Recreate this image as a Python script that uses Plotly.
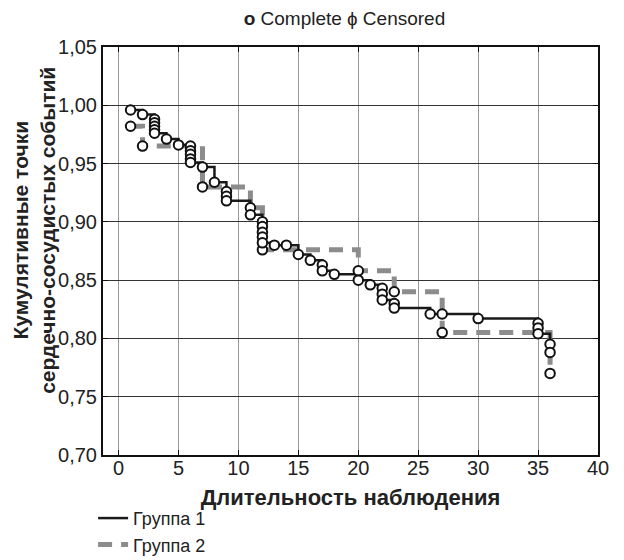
import plotly.graph_objects as go

# Group 1 (solid black) - times and cumulative proportions
g1_t = [1, 2, 3, 3, 3, 3, 3, 4, 5, 6, 6, 6, 6, 6, 7, 8, 9, 9, 9, 11, 11,
        12, 12, 12, 12, 12, 13, 14, 15, 16, 17, 17, 18, 20, 21, 22, 22, 22,
        23, 23, 26, 27, 30, 35, 35, 35, 36, 36]
g1_s = [0.996, 0.992, 0.988, 0.985, 0.982, 0.979, 0.976, 0.971, 0.966,
        0.965, 0.961, 0.958, 0.954, 0.951, 0.947, 0.934, 0.926, 0.922, 0.918,
        0.912, 0.906, 0.900, 0.896, 0.891, 0.887, 0.882, 0.880, 0.880, 0.872,
        0.867, 0.863, 0.858, 0.855, 0.850, 0.846, 0.843, 0.838, 0.833, 0.830,
        0.826, 0.821, 0.821, 0.817, 0.813, 0.809, 0.804, 0.795, 0.788]

# Group 2 (dashed grey)
g2_t = [1, 2, 7, 11, 12, 20, 23, 27, 36]
g2_s = [0.982, 0.965, 0.930, 0.912, 0.876, 0.858, 0.840, 0.805, 0.770]
g2_mt = [1, 2, 7, 12, 20, 23, 27, 36]
g2_ms = [0.982, 0.965, 0.930, 0.876, 0.858, 0.840, 0.805, 0.770]

x_ticks = [0, 5, 10, 15, 20, 25, 30, 35, 40]
y_ticks = [0.70, 0.75, 0.80, 0.85, 0.90, 0.95, 1.00, 1.05]

FONT = "Liberation Sans"
marker = dict(symbol="circle", size=9.5, color="white",
              line=dict(color="#111111", width=2))

fig = go.Figure()
fig.add_trace(go.Scatter(x=g2_t, y=g2_s, mode="lines", line_shape="hv",
                         line=dict(color="#8c8c8c", width=5, dash="14px,9px"),
                         name="Группа 2", legendrank=2))
fig.add_trace(go.Scatter(x=g1_t, y=g1_s, mode="lines", line_shape="hv",
                         line=dict(color="#1a1a1a", width=2.5),
                         name="Группа 1", legendrank=1))
fig.add_trace(go.Scatter(x=g2_mt, y=g2_ms, mode="markers", marker=marker,
                         showlegend=False))
fig.add_trace(go.Scatter(x=g1_t, y=g1_s, mode="markers", marker=marker,
                         showlegend=False))

fig.update_layout(
    width=624, height=560,
    margin=dict(l=103, r=26, t=47, b=105, autoexpand=False),
    paper_bgcolor="white", plot_bgcolor="white",
    separators=", ",
    font=dict(family=FONT, size=20, color="#222222"),
    title=dict(text="<b>o</b> Complete ɸ Censored", x=0.552, xanchor="center",
               y=0.967, yanchor="middle", font=dict(size=19, family=FONT)),
    legend=dict(x=-0.02, y=-0.11, xanchor="left", yanchor="top",
                orientation="v", font=dict(size=18, family=FONT),
                itemwidth=30, tracegroupgap=0, bgcolor="rgba(0,0,0,0)"),
    xaxis=dict(range=[-1.3, 40], tickvals=x_ticks, ticks="inside", ticklen=5,
               tickcolor="#111", showline=True, linecolor="#111", linewidth=2,
               mirror="ticks", showgrid=True, gridcolor="#9a9a9a", gridwidth=1,
               zeroline=False, tickfont=dict(size=20), ticklabelstandoff=-6,
               automargin=False,
               title=dict(text="<b>Длительность наблюдения</b>",
                          font=dict(size=22), standoff=12)),
    yaxis=dict(range=[0.70, 1.05], tickvals=y_ticks, tickformat=".2f",
               ticks="inside", ticklen=5, tickcolor="#111", showline=True,
               linecolor="#111", linewidth=2, mirror="ticks", showgrid=True,
               gridcolor="#333333", gridwidth=1, zeroline=False,
               tickfont=dict(size=20), automargin=False),
    annotations=[dict(text="<b>Кумулятивные точки<br>сердечно-сосудистых событий</b>",
                      textangle=-90, xref="paper", yref="paper",
                      x=-0.141, y=0.55, xanchor="center", yanchor="middle",
                      showarrow=False, font=dict(size=21, family=FONT,
                                                 color="#222222"))],
)

fig.write_html("out.html")
